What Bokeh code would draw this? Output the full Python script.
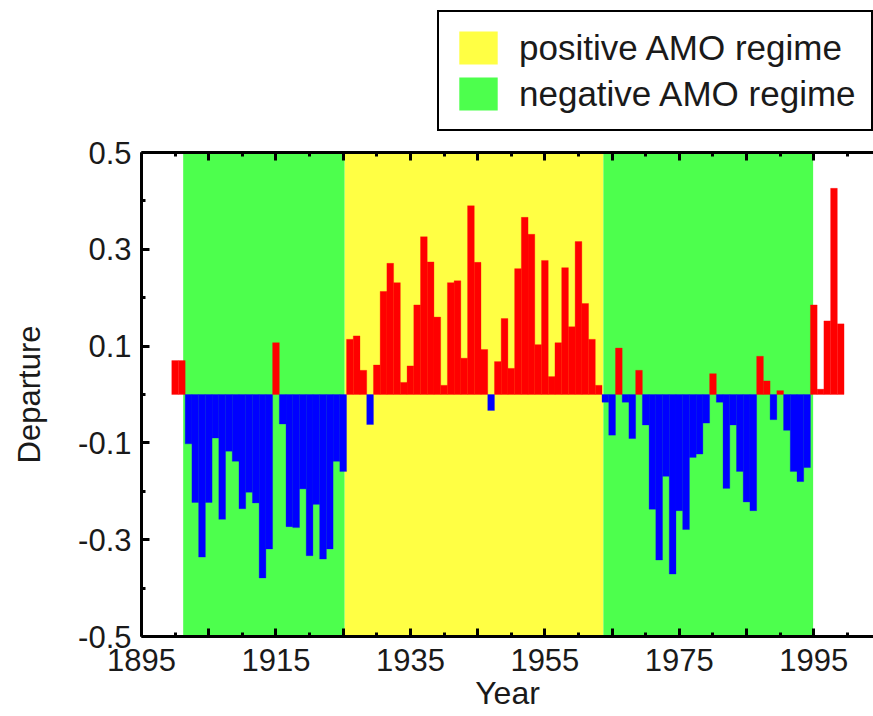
from bokeh.plotting import figure
from bokeh.layouts import column
from bokeh.models import (Range1d, FixedTicker, LinearAxis, Legend, LegendItem,
                          ColumnDataSource)
from bokeh.embed import file_html
from bokeh.resources import INLINE

# ---------------- data ----------------
years = list(range(1900, 2000))
departure = [
    0.070, 0.070, -0.102, -0.223, -0.336, -0.223, -0.090, -0.258, -0.117, -0.138,   # 1900-1909
    -0.236, -0.202, -0.224, -0.379, -0.319, 0.107, -0.061, -0.273, -0.275, -0.195,  # 1910-1919
    -0.333, -0.227, -0.340, -0.319, -0.138, -0.159, 0.114, 0.121, 0.050, -0.062,    # 1920-1929
    0.061, 0.213, 0.271, 0.231, 0.025, 0.059, 0.185, 0.326, 0.274, 0.160,           # 1930-1939
    0.019, 0.231, 0.235, 0.075, 0.390, 0.273, 0.093, -0.033, 0.068, 0.157,          # 1940-1949
    0.054, 0.260, 0.366, 0.331, 0.103, 0.277, 0.037, 0.107, 0.262, 0.140,           # 1950-1959
    0.316, 0.188, 0.114, 0.019, -0.016, -0.084, 0.096, -0.016, -0.091, 0.050,       # 1960-1969
    -0.063, -0.237, -0.342, -0.169, -0.371, -0.240, -0.279, -0.130, -0.123, -0.059, # 1970-1979
    0.043, -0.016, -0.194, -0.063, -0.159, -0.222, -0.240, 0.079, 0.028, -0.052,    # 1980-1989
    0.008, -0.074, -0.159, -0.180, -0.151, 0.185, 0.011, 0.152, 0.426, 0.146,       # 1990-1999
]

positive_regime_start = [1925.2]
positive_regime_end = [1963.7]
negative_regime_start = [1901.2, 1963.7]
negative_regime_end = [1925.2, 1994.9]

legend_labels = ["positive AMO regime", "negative AMO regime"]

x_tick_values = [1895, 1905, 1915, 1925, 1935, 1945, 1955, 1965, 1975, 1985, 1995]
x_tick_labels = ["1895", "", "1915", "", "1935", "", "1955", "", "1975", "", "1995"]
x_minor_ticks = [1900, 1910, 1920, 1930, 1940, 1950, 1960, 1970, 1980, 1990, 2000]
y_tick_values = [-0.5, -0.3, -0.1, 0.1, 0.3, 0.5]
y_tick_labels = ["-0.5", "-0.3", "-0.1", "0.1", "0.3", "0.5"]
y_minor_ticks = [-0.4, -0.2, 0.0, 0.2, 0.4]

# ---------------- styling ----------------
FONT = "Liberation Sans"
TEXT = "#1a1a1a"
YELLOW = "#ffff44"
GREEN = "#4dff4d"
RED = "#ff0000"
BLUE = "#0000ff"

W = 873
LEG_H = 132
MAIN_H = 584

x_lo, x_hi = 1895, 2003.88
y_lo, y_hi = -0.5, 0.5

pos_src = ColumnDataSource(dict(left=positive_regime_start, right=positive_regime_end))
neg_src = ColumnDataSource(dict(left=negative_regime_start, right=negative_regime_end))

# ---------------- legend strip (top) ----------------
# Same regime glyphs; this strip's ranges keep them out of view so only the
# legend (with its swatches) is seen.
lf = figure(width=W, height=LEG_H, output_backend="svg", toolbar_location=None,
            x_axis_location=None, y_axis_location=None,
            x_range=Range1d(0, 1), y_range=Range1d(0, 1),
            min_border_left=0, min_border_right=0, min_border_top=0,
            min_border_bottom=0)
lf.outline_line_color = None
lf.xgrid.visible = False
lf.ygrid.visible = False
lr_pos = lf.quad(left="left", right="right", bottom=y_lo, top=y_hi, source=pos_src,
                 fill_color=YELLOW, line_color=None)
lr_neg = lf.quad(left="left", right="right", bottom=y_lo, top=y_hi, source=neg_src,
                 fill_color=GREEN, line_color=None)
legend = Legend(items=[LegendItem(label=legend_labels[0], renderers=[lr_pos]),
                       LegendItem(label=legend_labels[1], renderers=[lr_neg])],
                location=(296, 1), orientation="vertical",
                glyph_width=48, glyph_height=41, label_standoff=17,
                padding=15, spacing=5, margin=0,
                label_text_font=FONT, label_text_font_size="35px",
                label_text_color=TEXT, label_text_baseline="middle",
                border_line_color="black", border_line_width=2,
                border_line_alpha=1.0,
                background_fill_color="white", background_fill_alpha=1.0)
lf.add_layout(legend, "center")

# ---------------- main chart ----------------
p = figure(width=W, height=MAIN_H, output_backend="svg", toolbar_location=None,
           x_range=Range1d(x_lo, x_hi), y_range=Range1d(y_lo, y_hi),
           min_border_left=141, min_border_right=0, min_border_top=20,
           min_border_bottom=80)
p.outline_line_color = None
p.xgrid.visible = False
p.ygrid.visible = False
p.background_fill_color = "white"
p.border_fill_color = "white"

p.quad(left="left", right="right", bottom=y_lo, top=y_hi, source=pos_src,
       fill_color=YELLOW, line_color=None)
p.quad(left="left", right="right", bottom=y_lo, top=y_hi, source=neg_src,
       fill_color=GREEN, line_color=None)

colors = [RED if v >= 0 else BLUE for v in departure]
bar_src = ColumnDataSource(dict(x=years, top=departure, color=colors))
p.vbar(x="x", top="top", bottom=0, width=1.0, source=bar_src,
       fill_color="color", line_color="color", line_width=0.3)

xticker = FixedTicker(ticks=x_tick_values, minor_ticks=x_minor_ticks)
yticker = FixedTicker(ticks=y_tick_values, minor_ticks=y_minor_ticks)

def style_axis(ax):
    ax.axis_line_width = 3
    ax.axis_line_color = "black"
    ax.major_tick_in = 8
    ax.major_tick_out = 0
    ax.minor_tick_in = 4
    ax.minor_tick_out = 0
    ax.major_tick_line_width = 3
    ax.minor_tick_line_width = 3
    ax.major_tick_line_color = "black"
    ax.minor_tick_line_color = "black"
    ax.major_label_text_font = FONT
    ax.major_label_text_font_size = "31px"
    ax.major_label_text_color = TEXT
    ax.axis_label_text_font = FONT
    ax.axis_label_text_font_style = "normal"
    ax.axis_label_text_color = TEXT

xa = p.xaxis[0]
xa.ticker = xticker
xa.major_label_overrides = {v: s for v, s in zip(x_tick_values, x_tick_labels)}
style_axis(xa)
xa.axis_label = "Year"
xa.axis_label_text_font_size = "32px"
xa.major_label_standoff = 12
xa.axis_label_standoff = 1

ya = p.yaxis[0]
ya.ticker = yticker
ya.major_label_overrides = {v: s for v, s in zip(y_tick_values, y_tick_labels)}
style_axis(ya)
ya.axis_label = "Departure"
ya.axis_label_text_font_size = "31px"
ya.major_label_standoff = 10
ya.axis_label_standoff = 28

top_ax = LinearAxis(ticker=xticker)
style_axis(top_ax)
top_ax.major_label_overrides = {v: "" for v in x_tick_values}
top_ax.major_label_text_font_size = "4px"
top_ax.major_label_standoff = 0
p.add_layout(top_ax, "above")

layout = column(lf, p, spacing=0)
open("out.html", "w").write(file_html(layout, INLINE))
